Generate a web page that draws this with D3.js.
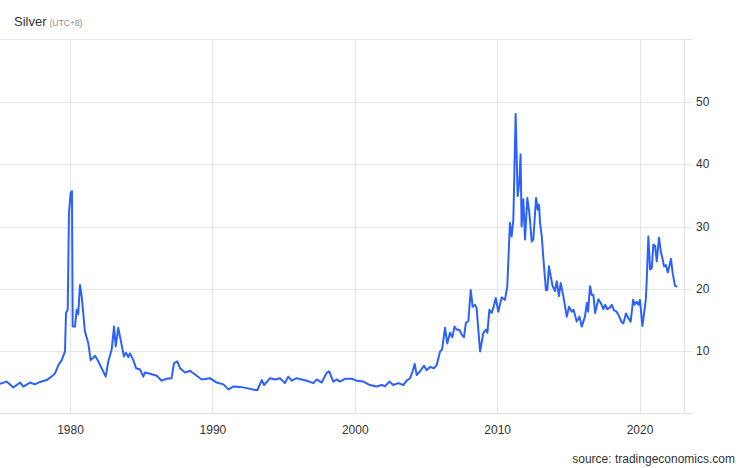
<!DOCTYPE html>
<html>
<head>
<meta charset="utf-8">
<script src="https://cdn.jsdelivr.net/npm/d3@7"></script>
<style>
  html, body { margin: 0; padding: 0; background: #fff; }
  svg { display: block; font-family: "Liberation Sans", Arial, sans-serif; }
</style>
</head>
<body>
<svg id="chart" width="746" height="468"></svg>
<script>
const title = "Silver";
const subtitle = "(UTC+8)";
const source = "source: tradingeconomics.com";

const dates = [
"1975-02-01","1975-07-20","1976-01-08","1976-06-28","1976-09-20","1977-03-10","1977-07-15","1977-11-20",
"1978-05-10","1978-09-15","1978-12-15","1979-03-08","1979-06-02","1979-08-25","1979-09-20","1979-11-03",
"1979-12-05","1980-01-18","1980-02-20","1980-03-10","1980-05-08","1980-06-20","1980-07-30","1980-09-12",
"1980-10-26","1981-01-18","1981-04-15","1981-06-13","1981-10-05","1981-12-28","1982-03-22","1982-07-05",
"1982-09-10","1982-12-05","1983-02-03","1983-03-18","1983-05-22","1983-07-22","1983-10-15","1983-12-05",
"1984-02-05","1984-03-18","1984-06-13","1984-08-22","1984-12-03","1985-02-24","1985-04-08","1985-08-15",
"1986-02-03","1986-06-10","1986-10-15","1987-02-20","1987-04-20","1987-07-15","1987-09-25","1988-01-30",
"1988-06-05","1988-10-12","1989-04-01","1989-10-30","1990-04-20","1990-10-10","1991-02-15","1991-06-20",
"1991-12-10","1992-05-30","1993-01-01","1993-03-01","1993-06-20","1993-08-18","1994-01-20","1994-05-25",
"1994-10-01","1995-02-05","1995-05-01","1995-07-28","1995-12-01","1996-04-08","1996-08-15","1997-02-03",
"1997-05-01","1997-09-05","1998-01-12","1998-03-18","1998-06-28","1998-09-25","1998-12-17","1999-04-23",
"1999-10-12","2000-02-20","2000-08-08","2001-01-25","2001-07-15","2001-11-20","2002-02-15","2002-06-05",
"2002-09-16","2003-01-22","2003-05-30","2003-08-25","2003-11-18","2004-01-26","2004-03-18","2004-05-08",
"2004-07-30","2004-11-10","2005-01-20","2005-04-15","2005-07-28","2005-10-01","2005-12-28","2006-02-17",
"2006-05-05","2006-07-01","2006-09-10","2006-11-10","2007-01-01","2007-03-01","2007-05-08","2007-07-05",
"2007-09-02","2007-10-22","2007-12-25","2008-02-22","2008-04-12","2008-06-12","2008-07-22","2008-10-20",
"2009-01-12","2009-03-20","2009-04-25","2009-06-15","2009-08-12","2009-09-25","2009-11-25","2010-01-30",
"2010-04-25","2010-07-20","2010-09-18","2010-11-25","2011-01-08","2011-02-20","2011-04-20","2011-06-10",
"2011-07-22","2011-08-25","2011-09-20","2011-11-03","2011-12-17","2012-02-13","2012-04-05","2012-06-05",
"2012-07-16","2012-09-25","2012-11-07","2012-12-10","2013-01-05","2013-02-18","2013-04-16","2013-06-05",
"2013-07-10","2013-08-22","2013-10-05","2013-11-25","2014-01-22","2014-03-08","2014-05-05","2014-06-18",
"2014-08-25","2014-11-22","2015-01-20","2015-03-28","2015-05-15","2015-08-03","2015-10-12","2015-12-10",
"2016-03-02","2016-04-20","2016-05-20","2016-07-12","2016-08-22","2016-10-05","2016-11-18","2017-02-10",
"2017-04-12","2017-06-18","2017-08-01","2017-09-28","2017-12-05","2018-01-20","2018-03-18","2018-05-25",
"2018-07-30","2018-10-01","2018-11-10","2019-01-20","2019-03-18","2019-05-18","2019-07-22","2019-08-30",
"2019-10-20","2019-12-05","2020-01-12","2020-03-15","2020-04-28","2020-06-10","2020-07-05","2020-08-15",
"2020-09-28","2020-11-10","2020-12-20","2021-02-03","2021-03-18","2021-05-15","2021-07-05","2021-08-18",
"2021-09-20","2021-11-10","2021-12-25","2022-02-05","2022-03-18","2022-05-01","2022-06-28","2022-08-25"
];

const prices = [
4.7,5.05,4.1,4.9,4.25,4.9,4.6,5.0,
5.3,5.85,6.4,7.7,8.5,9.9,16.1,16.6,
32.2,35.4,35.7,13.9,13.9,16.6,15.9,20.6,
18.8,13.1,11.2,8.5,9.2,8.3,7.2,5.85,
8.3,10.2,13.9,10.7,13.7,11.8,9.1,9.7,
9.0,9.6,8.5,7.2,7.0,5.85,6.5,6.3,
6.0,5.2,5.5,5.6,8.0,8.3,7.2,6.5,
6.8,6.2,5.4,5.6,4.9,4.6,3.8,4.25,
4.2,4.0,3.7,3.7,5.3,4.5,5.6,5.4,
5.6,4.8,5.85,5.2,5.6,5.4,5.2,4.8,
5.4,4.9,6.5,6.7,5.05,5.4,5.05,5.5,
5.5,5.2,5.05,4.5,4.25,4.5,4.3,5.05,
4.5,4.8,4.5,5.2,5.6,6.7,7.9,6.1,
6.7,7.6,6.9,7.4,7.2,7.7,9.9,10.2,
13.7,11.2,12.9,12.2,13.9,13.4,13.4,12.6,
12.2,14.5,14.8,19.8,17.1,17.4,16.9,9.9,
12.9,13.4,12.9,16.6,16.1,16.9,18.5,16.3,
18.6,18.2,20.4,30.6,28.4,31.1,48.1,34.9,
37.0,41.6,30.0,34.4,27.9,34.6,32.2,27.6,
27.9,34.6,32.7,33.5,30.6,28.4,23.6,19.8,
19.8,23.6,22.0,20.4,19.6,21.2,18.8,20.9,
18.8,15.5,17.1,16.3,16.6,14.7,15.5,13.9,
15.5,17.7,16.3,20.4,19.0,19.0,16.1,18.3,
17.7,16.7,17.4,16.7,17.0,17.4,16.5,16.3,
15.5,14.6,14.4,16.0,15.3,14.7,18.2,17.4,
17.9,17.4,18.2,14.0,16.1,18.2,21.5,28.4,
23.1,23.3,27.1,26.9,24.4,28.2,25.8,24.7,
23.6,23.8,22.6,23.6,24.8,22.5,20.5,20.3
];

const xTickYears = [1980, 1990, 2000, 2010, 2020];
const yTicks = [10, 20, 30, 40, 50];

(function () {
const parse = d3.timeParse("%Y-%m-%d");
const data = dates.map((d, i) => ({ date: parse(d), value: prices[i] }));

const svg = d3.select("#chart");
const pLeft = 0, pRight = 684, pTop = 40, pBottom = 413;

const x = d3.scaleTime()
  .domain([parse("1975-01-31"), parse("2023-02-15")])
  .range([pLeft, pRight]);
const y = d3.scaleLinear().domain([0, 60]).range([pBottom, pTop]);

const gridColor = "#e6e6e6";

// horizontal grid
svg.append("g").selectAll("line").data(yTicks).join("line")
  .attr("x1", pLeft).attr("x2", pRight)
  .attr("y1", d => Math.round(y(d)) + 0.5).attr("y2", d => Math.round(y(d)) + 0.5)
  .attr("stroke", gridColor);

// right axis with ticks
const yAxis = d3.axisRight(y).tickValues(yTicks).tickSize(9).tickPadding(3).tickFormat(d3.format("d"));
const gy = svg.append("g").attr("transform", `translate(${pRight},0)`).call(yAxis);
gy.select(".domain").remove();
gy.selectAll(".tick").attr("transform", d => `translate(0,${Math.round(y(d)) + 0.5})`);
gy.selectAll(".tick line").attr("stroke", gridColor);
gy.selectAll(".tick text").attr("fill", "#333").attr("font-size", "12px")
  .attr("font-family", "Liberation Sans, Arial, sans-serif");

// vertical grid
const xTicks = xTickYears.map(yr => new Date(yr, 0, 1));
svg.append("g").selectAll("line").data(xTicks).join("line")
  .attr("x1", d => Math.round(x(d)) + 0.5).attr("x2", d => Math.round(x(d)) + 0.5)
  .attr("y1", pTop - 1).attr("y2", pBottom)
  .attr("stroke", gridColor);

// frame lines
svg.append("line").attr("x1", 0).attr("x2", pRight + 9).attr("y1", pTop - 0.5).attr("y2", pTop - 0.5).attr("stroke", gridColor);
svg.append("line").attr("x1", 0).attr("x2", pRight + 9).attr("y1", pBottom + 0.5).attr("y2", pBottom + 0.5).attr("stroke", "#e0e0e0");
svg.append("line").attr("x1", pRight + 0.5).attr("x2", pRight + 0.5).attr("y1", pTop - 1).attr("y2", pBottom).attr("stroke", "#e0e0e0");

// x axis labels
const xAxis = d3.axisBottom(x).tickValues(xTicks).tickSize(0).tickPadding(12).tickFormat(d3.timeFormat("%Y"));
const gx = svg.append("g").attr("transform", `translate(0,${pBottom})`).call(xAxis);
gx.select(".domain").remove();
gx.selectAll(".tick text").attr("fill", "#333").attr("font-size", "12px")
  .attr("font-family", "Liberation Sans, Arial, sans-serif");

// clip
svg.append("clipPath").attr("id", "clip").append("rect")
  .attr("x", pLeft).attr("y", 0).attr("width", pRight - pLeft).attr("height", 468);

const line = d3.line().x(d => x(d.date)).y(d => y(d.value));
svg.append("path").datum(data)
  .attr("clip-path", "url(#clip)")
  .attr("fill", "none")
  .attr("stroke", "#2b62ff")
  .attr("stroke-width", 2)
  .attr("stroke-linejoin", "round")
  .attr("d", line);

// title
const t = svg.append("text").attr("x", 14).attr("y", 26).attr("font-size", "13px").attr("fill", "#333");
t.append("tspan").text(title);
t.append("tspan").attr("dx", 3).attr("font-size", "8.5px").attr("fill", "#888").text(subtitle);

// source
svg.append("text").attr("x", 735).attr("y", 463).attr("text-anchor", "end")
  .attr("font-size", "12px").attr("fill", "#333").text(source);
})();
</script>
</body>
</html>
